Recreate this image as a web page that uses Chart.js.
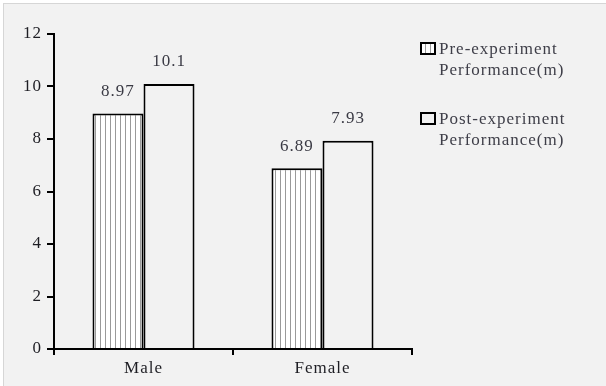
<!DOCTYPE html>
<html>
<head>
<meta charset="utf-8">
<script src="https://cdn.jsdelivr.net/npm/chart.js@4.4.1/dist/chart.umd.min.js"></script>
<style>
    html, body { margin: 0; padding: 0; background: #fff; }
    #wrap { width: 606px; height: 386px; }
</style>
</head>
<body>
<div id="wrap"><canvas id="chart" width="606" height="386"></canvas></div>
<script>
const categories = ['Male', 'Female']
const preValues = [8.97, 6.89]
const postValues = [10.1, 7.93]
const seriesLabels = [
    ['Pre-experiment', 'Performance(m)'],
    ['Post-experiment', 'Performance(m)']
]
const yTicks = [0, 2, 4, 6, 8, 10, 12]

const FONT = '"Liberation Serif", "Times New Roman", serif'

// vertical stripe fill for the pre-experiment bars
function stripePattern(ctx) {
    const tile = document.createElement('canvas')
    tile.width = 5
    tile.height = 4
    const t = tile.getContext('2d')
    t.fillStyle = '#ffffff'
    t.fillRect(0, 0, 5, 4)
    t.fillStyle = '#9a9a9a'
    t.fillRect(0, 0, 1, 4)
    return ctx.createPattern(tile, 'repeat')
}

const spacing = {
    id: 'spacing',
    beforeUpdate(chart) { chart.ctx.letterSpacing = '1px' },
    beforeDraw(chart) { chart.ctx.letterSpacing = '1px' }
}

const frame = {
    id: 'frame',
    beforeDraw(chart) {
        const { ctx, width, height } = chart
        ctx.save()
        ctx.fillStyle = '#ffffff'
        ctx.fillRect(0, 0, width, height)
        ctx.fillStyle = '#d6d6d6'
        ctx.fillRect(3, 3, width - 3, height - 3)
        ctx.fillStyle = '#f2f2f2'
        ctx.fillRect(4, 4, width - 4, height - 4)
        ctx.restore()
    }
}

const valueLabels = {
    id: 'valueLabels',
    afterDatasetsDraw(chart) {
        const { ctx } = chart
        ctx.save()
        ctx.font = `17px ${FONT}`
        ctx.fillStyle = '#3a3a44'
        ctx.textAlign = 'center'
        ctx.textBaseline = 'middle'
        chart.data.datasets.forEach((ds, i) => {
            chart.getDatasetMeta(i).data.forEach((bar, j) => {
                ctx.fillText(String(ds.data[j]), bar.x, bar.y - 22)
            })
        })
        ctx.restore()
    }
}

const sideLegend = {
    id: 'sideLegend',
    afterDraw(chart) {
        const { ctx } = chart
        const x = 421
        const tops = [43, 113]
        ctx.save()
        chart.data.datasets.forEach((ds, i) => {
            const top = tops[i]
            ctx.fillStyle = ds.backgroundColor
            ctx.fillRect(x, top, 14, 11)
            ctx.lineWidth = 2
            ctx.strokeStyle = '#000'
            ctx.strokeRect(x, top, 14, 11)
            ctx.font = `17px ${FONT}`
            ctx.fillStyle = '#3e3e48'
            ctx.textAlign = 'left'
            ctx.textBaseline = 'alphabetic'
            ds.label.forEach((line, k) => ctx.fillText(line, 439, top + 11 + k * 21))
        })
        ctx.restore()
    }
}

const ctx = document.getElementById('chart').getContext('2d')
const pattern = stripePattern(ctx)

new Chart(ctx, {
    type: 'bar',
    data: {
        labels: categories,
        datasets: [
            {
                label: seriesLabels[0],
                data: preValues,
                backgroundColor: pattern,
                borderColor: '#000',
                borderWidth: 2
            },
            {
                label: seriesLabels[1],
                data: postValues,
                backgroundColor: '#f2f2f2',
                borderColor: '#000',
                borderWidth: 2
            }
        ]
    },
    options: {
        responsive: false,
        animation: false,
        devicePixelRatio: 1,
        categoryPercentage: 0.57,
        barPercentage: 1,
        layout: { padding: { top: 34, right: 194, left: 0, bottom: 0 } },
        plugins: {
            legend: { display: false },
            tooltip: { enabled: false }
        },
        scales: {
            x: {
                grid: {
                    offset: true,
                    drawOnChartArea: false,
                    color: '#000',
                    lineWidth: 2,
                    tickLength: 6
                },
                border: { color: '#000', width: 2 },
                ticks: {
                    color: '#1e1e24',
                    font: { family: FONT, size: 17 },
                    padding: 3
                },
                afterFit(scale) { scale.height = 37 }
            },
            y: {
                min: 0,
                max: 12,
                afterBuildTicks(scale) { scale.ticks = yTicks.map(v => ({ value: v })) },
                grid: {
                    drawOnChartArea: false,
                    color: '#000',
                    lineWidth: 2,
                    tickLength: 7
                },
                border: { color: '#000', width: 2 },
                ticks: {
                    color: '#1e1e24',
                    font: { family: FONT, size: 17 },
                    padding: 5
                },
                afterFit(scale) { scale.width = 54 }
            }
        }
    },
    plugins: [frame, spacing, valueLabels, sideLegend]
})
</script>
</body>
</html>
